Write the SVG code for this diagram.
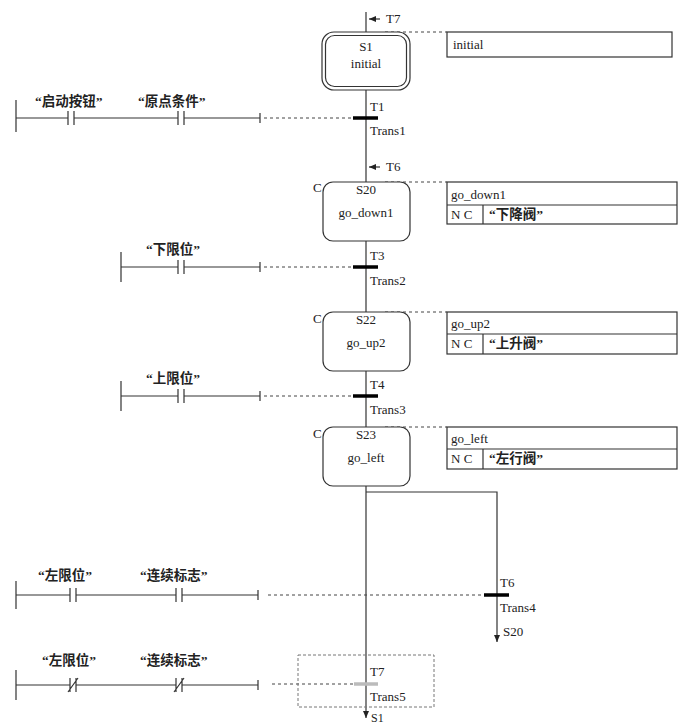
<svg xmlns="http://www.w3.org/2000/svg" width="689" height="726" viewBox="0 0 689 726">
<style>
text{font-family:"Liberation Serif","Noto Sans CJK SC",serif;font-size:13px;fill:#222}
.cn{font-family:"Liberation Serif","Noto Sans CJK SC",serif;font-weight:bold;font-size:13.5px}
.ln{stroke:#333;stroke-width:1.2;fill:none}
.dot{stroke:#444;stroke-width:1;stroke-dasharray:3,3;fill:none}
.st{fill:#fff;stroke:#333;stroke-width:1.2}
.bar{stroke:#000;stroke-width:3.5}
.m{text-anchor:middle}
</style>
<defs>
<marker id="ah" markerWidth="8" markerHeight="8" refX="7" refY="4" orient="auto" markerUnits="userSpaceOnUse"><path d="M0,1 L7,4 L0,7 Z" fill="#222"/></marker>
</defs>
<g id="connectors">
<line class="ln" x1="366" y1="12" x2="366" y2="718" marker-end="url(#ah)"/>
<line class="ln" x1="380" y1="19" x2="369" y2="19" marker-end="url(#ah)"/>
<line class="ln" x1="380" y1="167" x2="369" y2="167" marker-end="url(#ah)"/>
<path class="ln" d="M366,492 H497 V642" marker-end="url(#ah)"/>
<line class="dot" x1="385" y1="32" x2="447" y2="32"/>
<line class="dot" x1="385" y1="182" x2="447" y2="182"/>
<line class="dot" x1="385" y1="312" x2="447" y2="312"/>
<line class="dot" x1="385" y1="427" x2="447" y2="427"/>
<line class="dot" x1="264" y1="118" x2="354" y2="118"/>
<line class="dot" x1="264" y1="267" x2="354" y2="267"/>
<line class="dot" x1="264" y1="396" x2="354" y2="396"/>
<line class="dot" x1="268" y1="595" x2="484" y2="595"/>
<line class="dot" x1="272" y1="684" x2="354" y2="684"/>
</g>
<g id="S1"><rect class="st" x="322" y="32" width="88" height="58" rx="12"/><rect class="st" x="325.5" y="35.5" width="81" height="51" rx="9"/>
<text x="366" y="51" class="m">S1</text><text x="366" y="68" class="m">initial</text><text x="386" y="23">T7</text>
<rect class="st" x="447" y="32" width="225" height="25"/><text x="453" y="49">initial</text></g>
<g id="T1"><line class="bar" x1="353" y1="118" x2="378" y2="118"/><text x="370" y="111">T1</text><text x="370" y="135">Trans1</text></g>
<g id="S20"><text x="386" y="171">T6</text><rect class="st" x="323" y="182" width="87" height="59" rx="10"/><text x="313" y="192">C</text>
<text x="366" y="194" class="m">S20</text><text x="366" y="217" class="m">go_down1</text>
<rect class="st" x="447" y="182" width="230" height="42"/><line class="ln" x1="447" y1="205" x2="677" y2="205"/><line class="ln" x1="483" y1="205" x2="483" y2="224"/>
<text x="451" y="199">go_down1</text><text x="451" y="219">N  C</text><text x="489" y="219" class="cn">“下降阀”</text></g>
<g id="T3"><line class="bar" x1="353" y1="267" x2="378" y2="267"/><text x="370" y="260">T3</text><text x="370" y="285">Trans2</text></g>
<g id="S22"><rect class="st" x="323" y="312" width="87" height="59" rx="10"/><text x="313" y="323">C</text>
<text x="366" y="324" class="m">S22</text><text x="366" y="347" class="m">go_up2</text>
<rect class="st" x="447" y="312" width="230" height="42"/><line class="ln" x1="447" y1="334" x2="677" y2="334"/><line class="ln" x1="483" y1="334" x2="483" y2="354"/>
<text x="451" y="328">go_up2</text><text x="451" y="348">N  C</text><text x="489" y="348" class="cn">“上升阀”</text></g>
<g id="T4"><line class="bar" x1="353" y1="396" x2="378" y2="396"/><text x="370" y="389">T4</text><text x="370" y="414">Trans3</text></g>
<g id="S23"><rect class="st" x="323" y="427" width="87" height="59" rx="10"/><text x="313" y="438">C</text>
<text x="366" y="439" class="m">S23</text><text x="366" y="462" class="m">go_left</text>
<rect class="st" x="447" y="427" width="230" height="42"/><line class="ln" x1="447" y1="449" x2="677" y2="449"/><line class="ln" x1="483" y1="449" x2="483" y2="469"/>
<text x="451" y="443">go_left</text><text x="451" y="463">N  C</text><text x="489" y="463" class="cn">“左行阀”</text></g>
<g id="T6b"><line class="bar" x1="484" y1="595" x2="509" y2="595"/><text x="500" y="587">T6</text><text x="500" y="612">Trans4</text><text x="503" y="636">S20</text></g>
<g id="T7b"><rect x="298" y="655" width="136" height="52" fill="none" stroke="#777" stroke-dasharray="3,2"/>
<line x1="354" y1="684" x2="378" y2="684" stroke="#bbb" stroke-width="3.5"/><text x="370" y="676">T7</text><text x="370" y="701">Trans5</text><text x="371" y="722" style="font-size:12px">S1</text></g>
<g id="ladder1"><path class="ln" d="M16,100 V132 M16,118 H68 M74,118 H178 M184,118 H260 M260,113 V123 M68,111 V125 M74,111 V125 M178,111 V125 M184,111 V125"/>
<text x="35" y="106" class="cn">“启动按钮”</text><text x="138" y="106" class="cn">“原点条件”</text></g>
<g id="ladder2"><path class="ln" d="M121,252 V282 M121,267 H178 M184,267 H260 M260,262 V272 M178,260 V274 M184,260 V274"/>
<text x="146" y="254" class="cn">“下限位”</text></g>
<g id="ladder3"><path class="ln" d="M121,381 V411 M121,396 H178 M184,396 H260 M260,391 V401 M178,389 V403 M184,389 V403"/>
<text x="146" y="383" class="cn">“上限位”</text></g>
<g id="ladder4"><path class="ln" d="M16,581 V609 M16,595 H70 M76,595 H176 M182,595 H258 M258,590 V600 M70,588 V602 M76,588 V602 M176,588 V602 M182,588 V602"/>
<text x="38" y="580" class="cn">“左限位”</text><text x="140" y="580" class="cn">“连续标志”</text></g>
<g id="ladder5"><path class="ln" d="M16,670 V700 M16,685 H70 M76,685 H176 M182,685 H258 M258,680 V690 M70,678 V692 M76,678 V692 M176,678 V692 M182,678 V692 M68,692 L78,678 M174,692 L184,678"/>
<text x="42" y="665" class="cn">“左限位”</text><text x="140" y="665" class="cn">“连续标志”</text></g>
</svg>
